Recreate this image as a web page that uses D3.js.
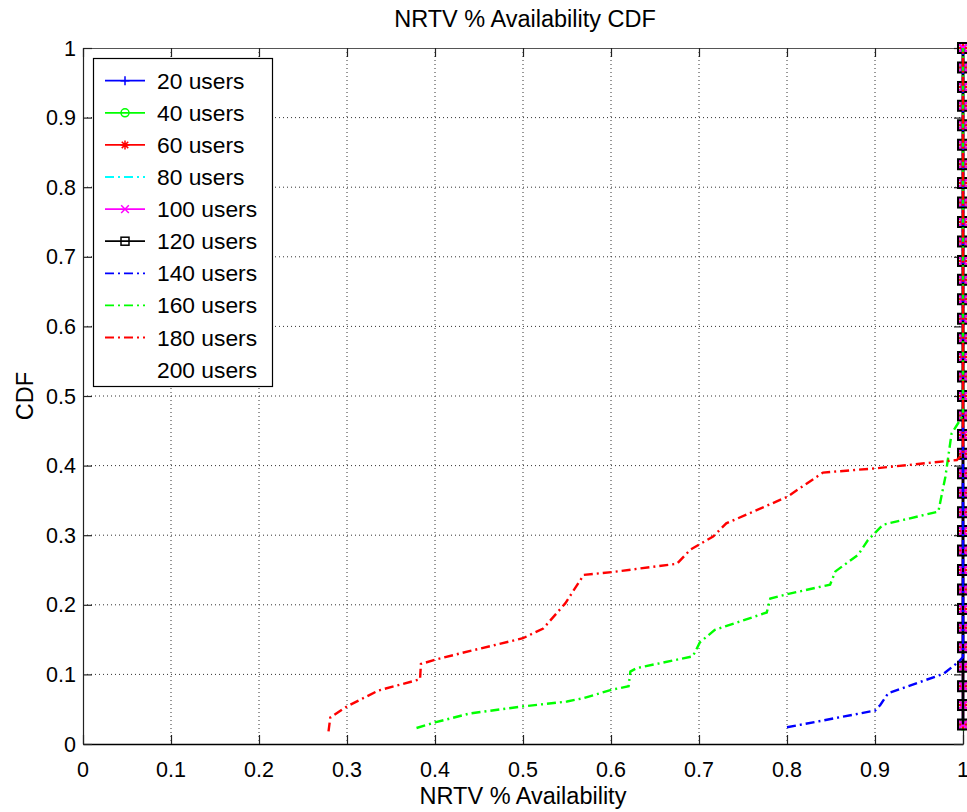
<!DOCTYPE html>
<html><head><meta charset="utf-8">
<script src="https://cdn.jsdelivr.net/npm/d3@7"></script>
<style>
html,body{margin:0;padding:0;background:#fff;}
text{font-family:"Liberation Sans",Arial,Helvetica,sans-serif;fill:#000;}
</style></head>
<body><svg id="chart" width="967" height="812"></svg>
<script>
// ---------- data ----------
const seriesNames = ["20 users","40 users","60 users","80 users","100 users","120 users","140 users","160 users","180 users","200 users"];
const seriesColors = ["#0000ff","#00ff00","#ff0000","#00ffff","#ff00ff","#000000","#0000ff","#00ff00","#ff0000","none"];
const seriesDash = ["solid","solid","solid","dashdot","solid","solid","dashdot","dashdot","dashdot","none"];
const seriesMarkers = ["plus","circle","star","none","cross","square","none","none","none","none"];
const xTicks = [0,0.1,0.2,0.3,0.4,0.5,0.6,0.7,0.8,0.9,1];
const yTicks = [0,0.1,0.2,0.3,0.4,0.5,0.6,0.7,0.8,0.9,1];
const xTickLabels = ["0","0.1","0.2","0.3","0.4","0.5","0.6","0.7","0.8","0.9","1"];
const yTickLabels = ["0","0.1","0.2","0.3","0.4","0.5","0.6","0.7","0.8","0.9","1"];

// CDF levels for low-load runs (all samples at 100% availability)
const cdfLevels = [0.028,0.056,0.083,0.111,0.139,0.167,0.194,0.222,0.250,0.278,0.306,0.333,
  0.361,0.389,0.417,0.444,0.472,0.500,0.528,0.556,0.583,0.611,0.639,0.667,0.694,0.722,
  0.750,0.778,0.806,0.833,0.861,0.889,0.917,0.944,0.972,1.000];
const fullAvail = [1,1,1,1,1,1,1,1,1,1,1,1,1,1,1,1,1,1,1,1,1,1,1,1,1,1,1,1,1,1,1,1,1,1,1,1];

const avail140 = [0.800,0.900,0.906,0.915,0.978,0.995,1,1];
const cdf140   = [0.024,0.048,0.056,0.073,0.101,0.118,0.125,1];

const avail160 = [0.379,0.400,0.440,0.500,0.550,0.569,0.601,0.620,0.622,0.629,0.693,0.701,0.718,0.777,0.781,0.803,0.849,0.855,0.881,0.892,0.909,0.972,0.980,0.987,0.997,1,1];
const cdf160   = [0.023,0.031,0.044,0.054,0.061,0.066,0.078,0.083,0.104,0.109,0.126,0.146,0.164,0.189,0.209,0.216,0.229,0.248,0.272,0.293,0.315,0.334,0.384,0.446,0.466,0.472,1];

const avail180 = [0.279,0.281,0.300,0.336,0.383,0.384,0.400,0.428,0.500,0.523,0.548,0.569,0.601,0.675,0.690,0.716,0.731,0.800,0.841,0.900,0.993,1,1];
const cdf180   = [0.018,0.038,0.054,0.077,0.093,0.115,0.121,0.130,0.152,0.166,0.202,0.243,0.247,0.259,0.279,0.298,0.317,0.355,0.390,0.396,0.408,0.417,1];

const avail200 = [];
const cdf200 = [];

const seriesX = [fullAvail,fullAvail,fullAvail,fullAvail,fullAvail,fullAvail,avail140,avail160,avail180,avail200];
const seriesY = [cdfLevels,cdfLevels,cdfLevels,cdfLevels,cdfLevels,cdfLevels,cdf140,cdf160,cdf180,cdf200];

// ---------- layout ----------
const L = 83, R = 963, T = 48, B = 744;
const svg = d3.select("#chart");
const x = d3.scaleLinear().domain([0,1]).range([L,R]);
const y = d3.scaleLinear().domain([0,1]).range([B,T]);

// grid
const grid = svg.append("g");
xTicks.slice(1,-1).forEach(v=>{
  grid.append("line").attr("x1",x(v)).attr("x2",x(v)).attr("y1",T).attr("y2",B)
    .attr("stroke","#333").attr("stroke-width",1).attr("stroke-dasharray","1,3");
});
yTicks.slice(1,-1).forEach(v=>{
  grid.append("line").attr("x1",L).attr("x2",R).attr("y1",y(v)).attr("y2",y(v))
    .attr("stroke","#333").attr("stroke-width",1).attr("stroke-dasharray","1,3");
});

// axes (box)
const xAxisB = d3.axisBottom(x).tickValues(xTicks).tickSizeInner(-9).tickSizeOuter(0).tickFormat(()=>"");
const xAxisT = d3.axisTop(x).tickValues(xTicks).tickSizeInner(-9).tickSizeOuter(0).tickFormat(()=>"");
const yAxisL = d3.axisLeft(y).tickValues(yTicks).tickSizeInner(-9).tickSizeOuter(0).tickFormat(()=>"");
const yAxisR = d3.axisRight(y).tickValues(yTicks).tickSizeInner(-9).tickSizeOuter(0).tickFormat(()=>"");
const gb = svg.append("g").attr("transform",`translate(0,${B})`).call(xAxisB);
const gt = svg.append("g").attr("transform",`translate(0,${T})`).call(xAxisT);
const gl = svg.append("g").attr("transform",`translate(${L},0)`).call(yAxisL);
const gr = svg.append("g").attr("transform",`translate(${R},0)`).call(yAxisR);
[gb,gt,gl,gr].forEach(g=>{
  g.selectAll(".domain").attr("stroke","#222").attr("stroke-width",1.2);
  g.selectAll(".tick line").attr("stroke","#222").attr("stroke-width",1.2);
});
gb.select(".domain").attr("stroke","#000").attr("stroke-width",1.5);
gt.select(".domain").attr("stroke","#555");

// tick labels
svg.append("g").selectAll("text").data(xTicks).join("text")
  .attr("x",d=>x(d)).attr("y",B+33).attr("text-anchor","middle")
  .attr("font-size",21.5).text((d,i)=>xTickLabels[i]);
svg.append("g").selectAll("text").data(yTicks).join("text")
  .attr("x",L-7).attr("y",d=>y(d)+7.5).attr("text-anchor","end")
  .attr("font-size",21.5).text((d,i)=>yTickLabels[i]);

// titles
svg.append("text").attr("x",(L+R)/2+2).attr("y",27).attr("text-anchor","middle")
  .attr("font-size",23.5).text("NRTV % Availability CDF");
svg.append("text").attr("x",(L+R)/2).attr("y",804).attr("text-anchor","middle")
  .attr("font-size",23.5).text("NRTV % Availability");
svg.append("text").attr("transform",`translate(33,${(T+B)/2}) rotate(-90)`).attr("text-anchor","middle")
  .attr("font-size",23.5).text("CDF");

// markers
function drawMarker(g, type, cx, cy, color, big){
  const s = big ? 5.5 : 4.5;
  const sw = big ? 2 : 1.5;
  if(type==="plus"){
    g.append("path").attr("d",`M${cx-s},${cy}H${cx+s}M${cx},${cy-s}V${cy+s}`).attr("stroke",color).attr("stroke-width",sw).attr("fill","none");
  } else if(type==="circle"){
    g.append("circle").attr("cx",cx).attr("cy",cy).attr("r",s-0.5).attr("stroke",color).attr("stroke-width",sw).attr("fill","none");
  } else if(type==="star"){
    const a=s*0.72;
    g.append("path").attr("d",`M${cx-s},${cy}H${cx+s}M${cx},${cy-s}V${cy+s}M${cx-a},${cy-a}L${cx+a},${cy+a}M${cx-a},${cy+a}L${cx+a},${cy-a}`).attr("stroke",color).attr("stroke-width",sw).attr("fill","none");
  } else if(type==="cross"){
    const a=s*0.85;
    g.append("path").attr("d",`M${cx-a},${cy-a}L${cx+a},${cy+a}M${cx-a},${cy+a}L${cx+a},${cy-a}`).attr("stroke",color).attr("stroke-width",sw).attr("fill","none");
  } else if(type==="square"){
    const h = s-0.5;
    g.append("rect").attr("x",cx-h).attr("y",cy-h).attr("width",2*h).attr("height",2*h).attr("stroke",color).attr("stroke-width",sw).attr("fill","none");
  }
}
const dashArr = {"solid":null,"dashdot":"9,4,2,4","none":null};

// series
const line = d3.line().x(d=>x(d[0])).y(d=>y(d[1]));
seriesNames.forEach((name,i)=>{
  const g = svg.append("g");
  const pts = seriesX[i].map((v,k)=>[v,seriesY[i][k]]);
  if(seriesColors[i]==="none" || pts.length===0) return;
  g.append("path").datum(pts).attr("d",line).attr("fill","none")
    .attr("stroke",seriesColors[i]).attr("stroke-width",2.4)
    .attr("stroke-dasharray",dashArr[seriesDash[i]]);
  if(seriesMarkers[i]!=="none"){
    pts.forEach(p=>drawMarker(g,seriesMarkers[i],x(p[0]),y(p[1]),seriesColors[i],true));
  }
});

// legend
const lg = svg.append("g");
lg.append("rect").attr("x",93.5).attr("y",58.5).attr("width",179).attr("height",328)
  .attr("fill","#fff").attr("stroke","#000").attr("stroke-width",1.2);
seriesNames.forEach((name,i)=>{
  const cy = 80.7 + i*32.1;
  if(seriesColors[i]!=="none"){
    lg.append("line").attr("x1",105).attr("x2",145).attr("y1",cy).attr("y2",cy)
      .attr("stroke",seriesColors[i]).attr("stroke-width",1.8)
      .attr("stroke-dasharray",dashArr[seriesDash[i]]);
    if(seriesMarkers[i]!=="none") drawMarker(lg,seriesMarkers[i],125,cy,seriesColors[i],false);
  }
  lg.append("text").attr("x",157).attr("y",cy+8).attr("font-size",22.8).text(name);
});
</script></body></html>
